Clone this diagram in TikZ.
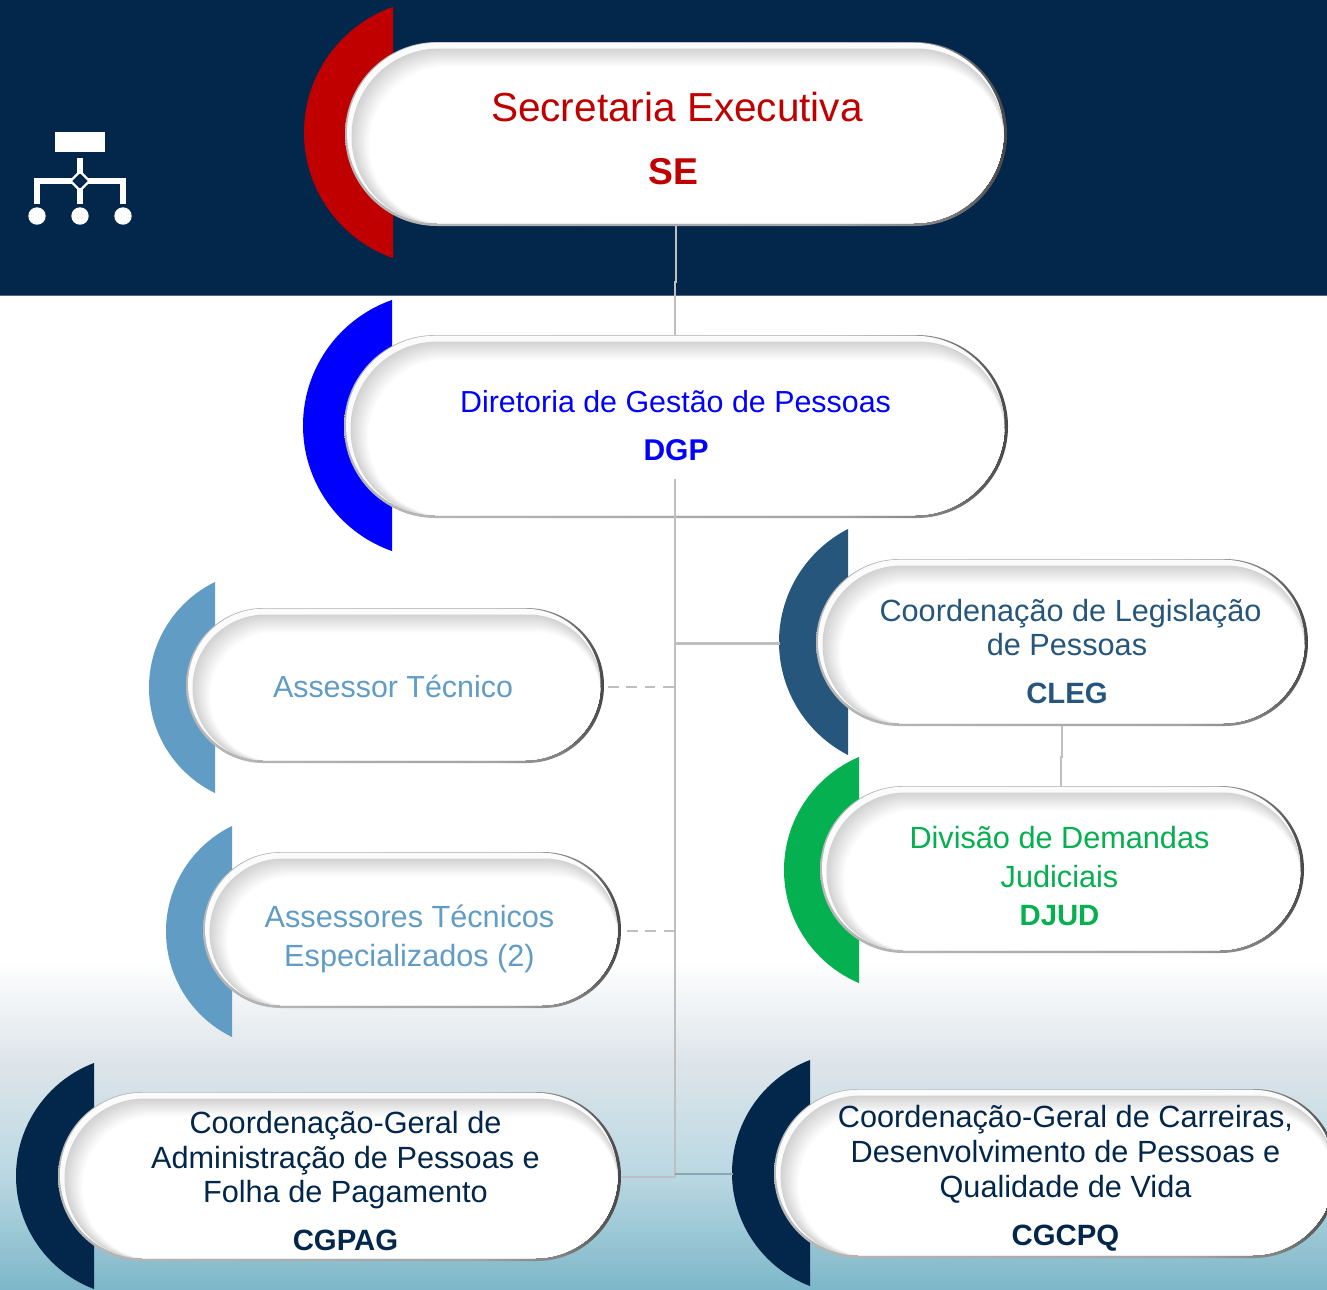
\documentclass[tikz,border=0pt]{standalone}
\usepackage{fontspec}
\setmainfont{Liberation Sans}
\usetikzlibrary{positioning,calc}
\definecolor{navy}{HTML}{03274A}
\definecolor{redc}{HTML}{C00000}
\definecolor{bluec}{HTML}{0000FF}
\definecolor{steel}{HTML}{26567C}
\definecolor{lightb}{HTML}{619CC5}
\definecolor{greenc}{HTML}{04B050}
\definecolor{linec}{HTML}{BFBFBF}
\definecolor{rimL}{HTML}{B8B8B8}
\definecolor{rimM}{HTML}{A4A4A4}
\definecolor{rimD}{HTML}{484848}
\definecolor{shadowc}{HTML}{D2D2D2}
\definecolor{bgtop}{HTML}{DEE5EA}
\definecolor{bgmid}{HTML}{BAD8E2}
\definecolor{bgbot}{HTML}{7DB7C9}
\pgfdeclarehorizontalshading{rimshade}{100bp}{color(0bp)=(rimL);color(25bp)=(rimL);color(62bp)=(rimM);color(70bp)=(rimM!60!rimD);color(75bp)=(rimD);color(100bp)=(rimD)}
\tikzset{
  x=0.75pt,y=-0.75pt,
  conn/.style={draw=linec,line width=2.2pt},
  thinconn/.style={draw=linec,line width=1.7pt},
  dashconn/.style={draw=linec,line width=2.2pt,dash pattern=on 8pt off 5.8pt},
  anchorbox/.style={inner sep=0pt,outer sep=0pt},
  lab/.style={anchor=base,inner sep=0pt,font=\fontsize{#1}{#1}\selectfont},
  labb/.style={anchor=base,inner sep=0pt,font=\fontsize{#1}{#1}\selectfont\bfseries},
  icon/.style={fill=white,draw=none},
}
% crescent: left, chord, top, bottom, colour
\newcommand{\crescent}[5]{%
  \pgfmathsetmacro{\myhh}{(#4-#3)/2}%
  \pgfmathsetmacro{\mydd}{#2-#1}%
  \pgfmathsetmacro{\myrr}{\mydd/2+(\myhh*\myhh)/(2*\mydd)}%
  \pgfmathsetmacro{\mycx}{#1+\myrr}%
  \pgfmathsetmacro{\mycy}{(#3+#4)/2}%
  \begin{scope}
    \clip (0,0) rectangle (#2,1289);
    \fill[#5] (\mycx,\mycy) ellipse [x radius=\myrr, y radius=\myrr];
  \end{scope}}
% rounded rectangle with full radius: options, x1,y1,x2,y2
\newcommand{\pillrect}[5]{%
  \pgfmathsetmacro{\myrad}{0.75*(#5-#3)/2-0.01}%
  \path[rounded corners=\myrad pt,#1] (#2,#3) rectangle (#4,#5);}
\newcommand{\pill}[5]{%
  \node[anchorbox,minimum width={0.75pt*(#4-#2)},minimum height={0.75pt*(#5-#3)}] (#1) at ({(#2+#4)/2},{(#3+#5)/2}) {};
  \pillrect{shade,shading=rimshade,shading angle=0}{#2}{#3}{#4}{#5}%
  \pgfmathsetmacro{\myxa}{#2+2}\pgfmathsetmacro{\myxb}{#4-3.5}\pgfmathsetmacro{\myya}{#3+0.7}\pgfmathsetmacro{\myyb}{#5-3}%
  \begin{scope}
  \pillrect{clip}{\myxa}{\myya}{\myxb}{\myyb}%
  \fill[white!92!shadowc] (#2,#3) rectangle (#4,#5);
  \foreach \k in {0,1,...,24}{%
    \pgfmathsetmacro{\myxa}{#2+6.5+\k*0.75}%
    \pgfmathsetmacro{\myya}{#3+6.5+\k*0.75}%
    \pgfmathsetmacro{\myxb}{#4-3}%
    \pgfmathsetmacro{\myyb}{#5-2}%
    \pgfmathsetmacro{\mymx}{min(100,\k*100/24)}%
    \pillrect{fill=white!\mymx!shadowc}{\myxa}{\myya}{\myxb}{\myyb}%
  }
  \end{scope}}
\begin{document}
\begin{tikzpicture}
\useasboundingbox (0,0) rectangle (1327,1289);
\begin{scope}
\clip (0,0) rectangle (1327,1289);
% background
\fill[white] (0,0) rectangle (1327,1289);
\shade[top color=white,bottom color=bgtop] (0,960) rectangle (1327,1060);
\shade[top color=bgtop,bottom color=bgmid] (0,1060) rectangle (1327,1175);
\shade[top color=bgmid,bottom color=bgbot] (0,1175) rectangle (1327,1289);
\fill[navy] (0,0) rectangle (1327,295);
\fill[navy!70!white] (0,295) rectangle (1327,296);
% icon
\fill[icon] (55,132) rectangle (104.5,152);
\fill[icon] (77,158) rectangle (83,174);
\fill[icon] (77,188) rectangle (83,203.5);
\fill[icon] (34,178) rectangle (72,183.5);
\fill[icon] (88,178) rectangle (126,183.5);
\fill[icon] (34,178) rectangle (40,203.5);
\fill[icon] (120,178) rectangle (126,203.5);
\draw[white,line width=1.6pt] (80,171.5) -- (89.5,181) -- (80,190.5) -- (70.5,181) -- cycle;
\fill[icon] (37,216) ellipse [x radius=8.7,y radius=8.7];
\fill[icon] (80,216) ellipse [x radius=8.7,y radius=8.7];
\fill[icon] (123,216) ellipse [x radius=8.7,y radius=8.7];
% crescents
\crescent{304}{393}{7}{258}{redc}
\crescent{303}{392}{300}{551}{bluec}
\crescent{149}{215}{582}{793}{lightb}
\crescent{166}{232}{826}{1037}{lightb}
\crescent{779}{848}{529}{755}{steel}
\crescent{784}{859}{757}{983}{greenc}
\crescent{16}{94}{1063}{1289}{navy}
\crescent{732}{810}{1060}{1286}{navy}
% pills
\pill{se}{345}{42}{1007}{226}
\pill{dgp}{344}{335}{1008}{518}
\pill{at}{186}{608}{604}{763}
\pill{ate}{203}{852}{621}{1008}
\pill{cleg}{816}{559}{1308}{726}
\pill{djud}{820}{786}{1304}{953}
\pill{cgpag}{58}{1092}{621}{1261}
\pill{cgcpq}{774}{1089}{1338}{1258}
% connectors
\coordinate (trunktop) at (675,480);
\coordinate (trunkend) at (675,1177);
\coordinate (legbranch) at (675,643.5);
\coordinate (legend) at (780,643.5);
\coordinate (atstart) at (608,687);
\coordinate (atend) at (675,687);
\coordinate (atestart) at (627,931);
\coordinate (ateend) at (675,931);
\coordinate (cgcpqbranch) at (675,1174);
\coordinate (cgcpqend) at (733,1174);
\coordinate (clegout) at (1062,726);
\coordinate (djudin) at (1061,786);
\draw[thinconn] (se.south) -- ++(0,56) -| (dgp.north -| trunktop);
\draw[conn,line cap=rect] (trunktop) -- (trunkend);
\draw[conn] (legbranch) -- (legend);
\draw[dashconn] (atstart) -- (atend);
\draw[dashconn] (atestart) -- (ateend);
\draw[conn] (cgpag.east |- trunkend) -- (trunkend);
\draw[draw={rgb,255:red,136;green,169;blue,179},line width=2.2pt] (cgcpqbranch) -- (cgcpqend);
\draw[thinconn] (clegout) -- ++(0,31) -| (djudin);
% text
\node[lab=30.4,text=redc] (t1) at (677,121.5) {Secretaria Executiva};
\node[labb=28,text=redc] (t2) at (673,184.5) {SE};
\node[lab=22.8,text=bluec] (t3) at (675.5,412) {Diretoria de Gestão de Pessoas};
\node[labb=22.5,text=bluec] (t4) at (676,460) {DGP};
\node[lab=22.8,text=lightb] (t5) at (393,697) {Assessor Técnico};
\node[lab=23,text=lightb] (t6) at (409.5,927) {Assessores Técnicos};
\node[lab=23,text=lightb] (t7) at (409.5,966) {Especializados (2)};
\node[lab=23,text=steel] (t8) at (1070.5,621) {Coordenação de Legislação};
\node[lab=23,text=steel] (t9) at (1067,655) {de Pessoas};
\node[labb=22,text=steel] (t10) at (1067,703) {CLEG};
\node[lab=23,text=greenc] (t11) at (1059.5,848.5) {Divisão de Demandas};
\node[lab=23,text=greenc] (t12) at (1059.5,887) {Judiciais};
\node[labb=22,text=greenc] (t13) at (1059.5,925) {DJUD};
\node[lab=23,text=navy] (t14) at (345.5,1133) {Coordenação-Geral de};
\node[lab=23,text=navy] (t15) at (345.5,1168) {Administração de Pessoas e};
\node[lab=23,text=navy] (t16) at (345.5,1202.5) {Folha de Pagamento};
\node[labb=22,text=navy] (t17) at (345.5,1250) {CGPAG};
\node[lab=23,text=navy] (t18) at (1065.5,1127) {Coordenação-Geral de Carreiras,};
\node[lab=23,text=navy] (t19) at (1065.5,1162) {Desenvolvimento de Pessoas e};
\node[lab=23,text=navy] (t20) at (1065.5,1197) {Qualidade de Vida};
\node[labb=22,text=navy] (t21) at (1065.5,1245) {CGCPQ};
\end{scope}
\end{tikzpicture}
\end{document}
